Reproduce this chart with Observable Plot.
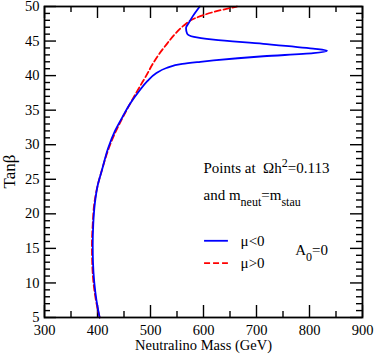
<!DOCTYPE html>
<html><head><meta charset="utf-8">
<script src="https://cdn.jsdelivr.net/npm/d3@7"></script>
<script src="https://cdn.jsdelivr.net/npm/@observablehq/plot@0.6"></script>
<style>body{margin:0;background:#fff}</style>
</head><body><div id="chart"></div>
<script>
// mu<0 curve (blue)
const muNegMass = [404, 398, 394, 391.5, 391, 392, 395, 400, 409, 420, 433, 447, 462, 478, 494, 510, 530, 560, 594, 619, 713, 807, 833, 807, 713, 619, 582, 569, 567, 572, 579, 593];
const muNegTan  = [5, 7.5, 10, 13, 15.5, 18.5, 21.5, 24, 26.5, 29.5, 32, 34, 36, 37.7, 39.2, 40.3, 41.1, 41.7, 42.0, 42.2, 42.8, 43.25, 43.6, 43.9, 44.6, 45.2, 45.6, 46.1, 46.9, 47.6, 48.5, 50];
// mu>0 curve (red dashed)
const muPosMass = [404, 397, 392.5, 390, 389.5, 391, 394, 400, 409, 419, 432, 446, 462, 479, 492, 505, 517, 531, 546, 562, 584, 619, 663];
const muPosTan  = [5, 7.5, 10, 13, 15.5, 18.5, 21.5, 24, 26.5, 29, 31.5, 33.7, 36, 38.3, 40, 41.8, 43.2, 44.6, 46, 47.2, 48.3, 49.2, 50];

const xTickLabels = [300, 400, 500, 600, 700, 800, 900];
const xMinorTicks = [350, 450, 550, 650, 750, 850];
const yTickLabels = [5, 10, 15, 20, 25, 30, 35, 40, 45, 50];
const yMinorTicks = [6,7,8,9,11,12,13,14,16,17,18,19,21,22,23,24,26,27,28,29,31,32,33,34,36,37,38,39,41,42,43,44,46,47,48,49];

const xTitle = "Neutralino Mass (GeV)";
const yTitle = "Tanβ";

// annotations
const noteTexts = ["Points at  Ωh^{2}=0.113", "and m_{neut}=m_{stau}", "μ<0", "μ>0", "A_{0}=0"];
const noteMass  = [600, 600, 670, 670, 773];
const noteTan   = [26.6, 22.7, 16.1, 12.86, 14.7];
// legend samples
const legendMass = [602, 647];
const legendTanNeg = 16.1;
const legendTanPos = 12.86;

const W = 374, H = 356, mL = 44, mR = 12, mT = 6, mB = 39;
const fw = W - mL - mR, fh = H - mT - mB;
const major = 12, minor = 6;

const neg = muNegMass.map((m, i) => ({m, t: muNegTan[i]}));
const pos = muPosMass.map((m, i) => ({m, t: muPosTan[i]}));
const notes = noteTexts.map((s, i) => ({s, m: noteMass[i], t: noteTan[i]}));

const tickStyle = {stroke: "black", strokeWidth: 1.4};

const chart = Plot.plot({
  width: W, height: H,
  marginLeft: mL, marginRight: mR, marginTop: mT, marginBottom: mB,
  style: {fontFamily: "'Liberation Serif', 'Times New Roman', serif", fontSize: "14px", background: "#fff", color: "black"},
  x: {domain: [300, 900]},
  y: {domain: [5, 50]},
  marks: [
    Plot.tickX(xTickLabels, {x: d => d, insetTop: fh - major, ...tickStyle}),
    Plot.tickX(xTickLabels, {x: d => d, insetBottom: fh - major, ...tickStyle}),
    Plot.tickX(xMinorTicks, {x: d => d, insetTop: fh - minor, ...tickStyle}),
    Plot.tickX(xMinorTicks, {x: d => d, insetBottom: fh - minor, ...tickStyle}),
    Plot.tickY(yTickLabels, {y: d => d, insetRight: fw - major, ...tickStyle}),
    Plot.tickY(yTickLabels, {y: d => d, insetLeft: fw - major, ...tickStyle}),
    Plot.tickY(yMinorTicks, {y: d => d, insetRight: fw - minor, ...tickStyle}),
    Plot.tickY(yMinorTicks, {y: d => d, insetLeft: fw - minor, ...tickStyle}),
    Plot.axisX({ticks: xTickLabels, tickSize: 0, tickPadding: 7, tickFormat: d => String(d),
      label: xTitle, labelAnchor: "center", labelOffset: 32, labelArrow: "none", fontSize: 14.5}),
    Plot.axisY({ticks: yTickLabels, tickSize: 0, tickPadding: 5, tickFormat: d => String(d),
      label: null, fontSize: 14.5}),
    Plot.text([yTitle], {text: d => d, frameAnchor: "left", rotate: -90, dx: -35, dy: 9.5,
      lineAnchor: "middle", textAnchor: "middle", fontSize: 17, fill: "black"}),
    Plot.line(pos, {x: "m", y: "t", stroke: "#ff0000", strokeWidth: 1.8, strokeDasharray: "6,3", curve: "monotone-y"}),
    Plot.line(neg, {x: "m", y: "t", stroke: "#0000ff", strokeWidth: 1.8, curve: "monotone-y"}),
    Plot.ruleY([legendTanNeg], {x1: legendMass[0], x2: legendMass[1], stroke: "#0000ff", strokeWidth: 1.8}),
    Plot.ruleY([legendTanPos], {x1: legendMass[0], x2: legendMass[1], stroke: "#ff0000", strokeWidth: 1.8, strokeDasharray: "6,3"}),
    Plot.text(notes, {x: "m", y: "t", text: "s", textAnchor: "start", fontSize: 15, fill: "black", className: "note"}),
    Plot.frame({stroke: "black", strokeWidth: 1.8})
  ]
});

// turn ^{..} and _{..} into superscript / subscript tspans
d3.select(chart).selectAll("g.note text").each(function() {
  const el = d3.select(this);
  const src = this.textContent;
  el.text(null);
  const re = /(\^|_)\{([^}]*)\}/g;
  let last = 0, m, pending = 0;
  const add = (txt, dy, size) => {
    const ts = el.append("tspan").text(txt);
    if (dy) ts.attr("dy", dy);
    if (size) ts.attr("font-size", size);
  };
  while ((m = re.exec(src))) {
    if (m.index > last) { add(src.slice(last, m.index), pending); pending = 0; }
    const shift = m[1] === "^" ? -6 : 6;
    add(m[2], shift + pending, 12);
    pending = -shift;
    last = re.lastIndex;
  }
  if (last < src.length) add(src.slice(last), pending);
});

document.getElementById("chart").appendChild(chart);
</script>
</body></html>
